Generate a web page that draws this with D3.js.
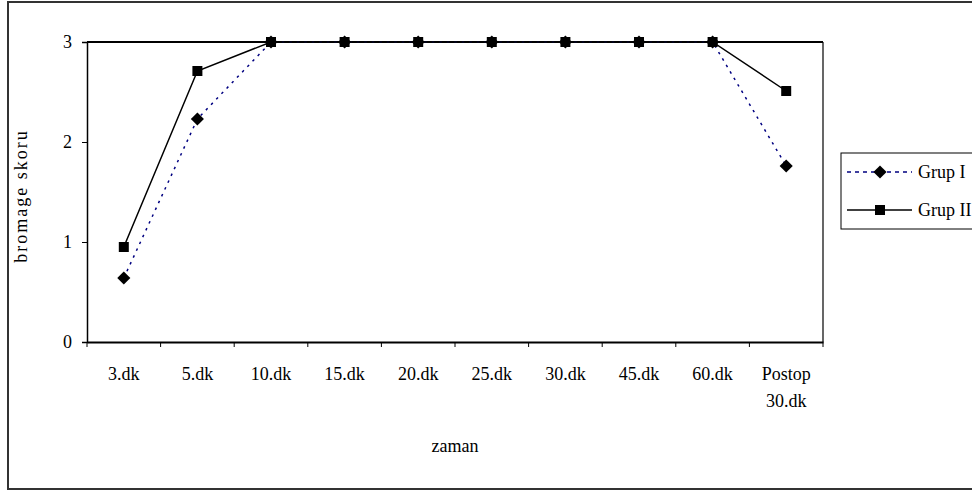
<!DOCTYPE html>
<html><head><meta charset="utf-8">
<script src="https://cdn.jsdelivr.net/npm/d3@7"></script>
<style>body{margin:0;background:#fff}svg{display:block}text{font-family:"Liberation Serif","Times New Roman",serif;fill:#000}</style>
</head><body><svg id="c" width="972" height="491"></svg>
<script>
const categories = ["3.dk","5.dk","10.dk","15.dk","20.dk","25.dk","30.dk","45.dk","60.dk","Postop 30.dk"];
const grup1 = [0.64, 2.23, 3, 3, 3, 3, 3, 3, 3, 1.76];
const grup2 = [0.95, 2.71, 3, 3, 3, 3, 3, 3, 3, 2.51];
const yTicks = [0, 1, 2, 3];
const seriesNames = ["Grup I", "Grup II"];

const FS = "18px";
const svg = d3.select("#c");
const L = 87, R = 823, T = 42, B = 342;
svg.append("rect").attr("x", 8).attr("y", 2).attr("width", 980).attr("height", 487)
  .attr("fill", "#fff").attr("stroke", "#333").attr("stroke-width", 2);

const x = d3.scaleBand().domain(categories).range([L, R]);
const y = d3.scaleLinear().domain([0, 3]).range([B, T]);

svg.append("line").attr("x1", R).attr("x2", R).attr("y1", T).attr("y2", B).attr("stroke", "#000").attr("stroke-width", 1.2);
svg.append("line").attr("x1", L).attr("x2", R).attr("y1", y(3)).attr("y2", y(3)).attr("stroke", "#000").attr("stroke-width", 2);

const yAxis = svg.append("g").attr("transform", `translate(${L},0)`)
  .call(d3.axisLeft(y).tickValues(yTicks).tickFormat(d3.format("d")).tickSize(5).tickPadding(10));
yAxis.select(".domain").attr("stroke", "#000").attr("stroke-width", 1.5);
yAxis.selectAll(".tick line").attr("stroke", "#000");
yAxis.selectAll("text").style("font-size", FS).style("font-family", "Liberation Serif");

const xAxis = svg.append("g").attr("transform", `translate(0,${B})`)
  .call(d3.axisBottom(x).tickSize(0).tickFormat(""));
xAxis.select(".domain").attr("stroke", "#000").attr("stroke-width", 2);
const bounds = categories.map(c => x(c)).concat([R]);
svg.append("g").selectAll("line").data(bounds).join("line")
  .attr("x1", d => d).attr("x2", d => d).attr("y1", B).attr("y2", B + 5)
  .attr("stroke", "#000").attr("stroke-width", 1);
const lab = svg.append("g");
categories.forEach(c => {
  const parts = c.split(" ");
  const cx = x(c) + x.bandwidth() / 2;
  const t = lab.append("text").attr("x", cx).attr("y", 380)
    .attr("text-anchor", "middle").style("font-size", FS);
  parts.forEach((p, i) => t.append("tspan").attr("x", cx).attr("dy", i === 0 ? 0 : 27).text(p));
});

const line = d3.line().x((d, i) => x(categories[i]) + x.bandwidth() / 2).y(d => y(d));
svg.append("path").datum(grup1).attr("d", line).attr("fill", "none")
  .attr("stroke", "#000080").attr("stroke-width", 1.5).attr("stroke-dasharray", "2.5,5");
svg.append("path").datum(grup2).attr("d", line).attr("fill", "none")
  .attr("stroke", "#000").attr("stroke-width", 1.5);

const diamond = d3.symbol().type(d3.symbolDiamond2).size(110);
const square = d3.symbol().type(d3.symbolSquare).size(100);
svg.append("g").selectAll("path").data(grup2).join("path")
  .attr("transform", (d, i) => `translate(${x(categories[i]) + x.bandwidth() / 2},${y(d)})`)
  .attr("d", square).attr("fill", "#000");
svg.append("g").selectAll("path").data(grup1).join("path")
  .attr("transform", (d, i) => `translate(${x(categories[i]) + x.bandwidth() / 2},${y(d)})`)
  .attr("d", diamond).attr("fill", "#000");

svg.append("text").attr("transform", "translate(27,196) rotate(-90)").attr("text-anchor", "middle")
  .style("font-size", FS).style("letter-spacing", "2px").text("bromage skoru");
svg.append("text").attr("x", 455).attr("y", 452).attr("text-anchor", "middle")
  .style("font-size", FS).text("zaman");

const lg = svg.append("g");
lg.append("rect").attr("x", 841).attr("y", 153).attr("width", 150).attr("height", 76)
  .attr("fill", "#fff").attr("stroke", "#000").attr("stroke-width", 1);
lg.append("line").attr("x1", 847).attr("x2", 912).attr("y1", 172).attr("y2", 172)
  .attr("stroke", "#000080").attr("stroke-width", 1.5).attr("stroke-dasharray", "4,4");
lg.append("path").attr("transform", "translate(880,172)").attr("d", diamond).attr("fill", "#000");
lg.append("line").attr("x1", 847).attr("x2", 912).attr("y1", 210).attr("y2", 210)
  .attr("stroke", "#000").attr("stroke-width", 1.5);
lg.append("path").attr("transform", "translate(880,210)").attr("d", square).attr("fill", "#000");
lg.append("text").attr("x", 918).attr("y", 178).style("font-size", FS).text(seriesNames[0]);
lg.append("text").attr("x", 918).attr("y", 216).style("font-size", FS).text(seriesNames[1]);
</script></body></html>
